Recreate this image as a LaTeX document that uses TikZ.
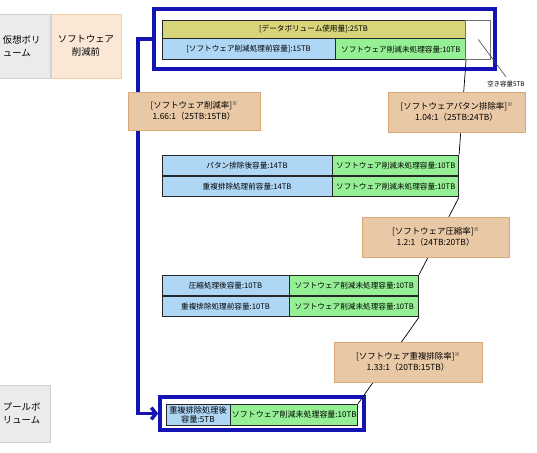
\documentclass[tikz,border=0pt]{standalone}
\usepackage{fontspec}
\setmainfont{Noto Sans CJK JP}
\usepackage{tikz}
\usetikzlibrary{positioning, arrows.meta}

\definecolor{volyellow}{HTML}{D7D47A}
\definecolor{cellblue}{HTML}{AED6F5}
\definecolor{cellgreen}{HTML}{95EF95}
\definecolor{ratefill}{HTML}{E9C8A6}
\definecolor{rateline}{HTML}{D8A878}
\definecolor{frameblue}{HTML}{1414B4}
\definecolor{sidegray}{HTML}{EBEBEB}
\definecolor{sidegrayline}{HTML}{D0D0D0}
\definecolor{sideorange}{HTML}{FBE7D6}
\definecolor{sideorangeline}{HTML}{F3CDA8}

\newcommand{\kome}{\raisebox{0.8ex}{\fontsize{4.5}{5}\selectfont ※}}

\begin{document}
\begin{tikzpicture}[x=0.03cm, y=-0.03cm,
   cell/.style={draw=black!85, line width=0.6pt, inner sep=0pt, minimum height=0.615cm,
                font=\fontsize{6.5}{7.5}\selectfont},
   bluebox/.style={draw=frameblue, line width=3pt, inner sep=0pt},
   ratebox/.style={draw=rateline, fill=ratefill, line width=0.8pt, align=center,
                   minimum height=1.2cm, font=\fontsize{7.2}{9.5}\selectfont},
   sidelabel/.style={line width=0.8pt, minimum height=1.92cm, font=\fontsize{8}{11}\selectfont},
   link/.style={black, line width=0.6pt}]
   \useasboundingbox (0,0) rectangle (537,452);

   % Side labels
   \node[sidelabel, fill=sidegray, draw=sidegrayline, minimum width=1.38cm,
         text width=1.32cm, align=left] (vvol) at (25,46) {仮想ボリ\\ューム};
   \node[sidelabel, fill=sideorange, draw=sideorangeline, minimum width=2.1cm,
         align=center] (nored) at (86,46) {ソフトウェア\\削減前};
   \node[sidelabel, fill=sidegray, draw=sidegrayline, minimum width=1.38cm,
         minimum height=1.71cm, text width=1.32cm, align=left] (pvol) at (25,413.5) {プールボ\\リューム};

   % Virtual volume
   \node[cell, fill=volyellow, minimum width=9.09cm, minimum height=0.54cm] (tused) at (313.5,29)
        {[データボリューム使用量]:25TB};
   \node[cell, fill=cellblue, minimum width=5.19cm, minimum height=0.63cm, anchor=north west]
        (tbefore) at (tused.south west) {[ソフトウェア削減処理前容量]:15TB};
   \node[cell, fill=cellgreen, minimum width=3.9cm, minimum height=0.63cm, right=0pt of tbefore]
        (tgreen) {ソフトウェア削減未処理容量:10TB};
   \node[cell, draw=black!55, minimum width=0.75cm, minimum height=1.17cm, anchor=north west]
        (tempty) at (tused.north east) {};
   \node[bluebox, minimum width=10.23cm, minimum height=1.8cm] (tframe) at (324.5,39) {};

   % After pattern removal
   \node[cell, fill=cellblue, minimum width=5.1cm] (pafter) at (247,165.25) {パタン排除後容量:14TB};
   \node[cell, fill=cellgreen, minimum width=3.78cm, right=0pt of pafter] (pgreen1)
        {ソフトウェア削減未処理容量:10TB};
   \node[cell, fill=cellblue, minimum width=5.1cm, below=0pt of pafter] (pdedup) {重複排除処理前容量:14TB};
   \node[cell, fill=cellgreen, minimum width=3.78cm, right=0pt of pdedup] (pgreen2)
        {ソフトウェア削減未処理容量:10TB};

   % After compression
   \node[cell, fill=cellblue, minimum width=3.81cm] (cafter) at (225.5,285.25) {圧縮処理後容量:10TB};
   \node[cell, fill=cellgreen, minimum width=3.87cm, right=0pt of cafter] (cgreen1)
        {ソフトウェア削減未処理容量:10TB};
   \node[cell, fill=cellblue, minimum width=3.81cm, below=0pt of cafter] (cdedup) {重複排除処理前容量:10TB};
   \node[cell, fill=cellgreen, minimum width=3.87cm, right=0pt of cdedup] (cgreen2)
        {ソフトウェア削減未処理容量:10TB};

   % Pool volume
   \node[cell, fill=cellblue, minimum width=1.92cm, minimum height=0.63cm, align=center,
         font=\fontsize{7}{7.6}\selectfont] (bafter) at (198,414.5) {重複排除処理後\\容量:5TB};
   \node[cell, fill=cellgreen, minimum width=3.81cm, minimum height=0.63cm, right=0pt of bafter,
         font=\fontsize{6.8}{7.5}\selectfont] (bgreen) {ソフトウェア削減未処理容量:10TB};
   \node[bluebox, minimum width=6.12cm, minimum height=0.99cm] (bframe) at (262,413.5) {};

   % Connectors
   \draw[frameblue, line width=3pt, -{Straight Barb[length=4pt, width=10pt]}]
        (tframe.west) -- ++(-14,0) |- (bframe.west);
   \draw[link] (tgreen.south east) -- (pgreen1.north east);
   \draw[link] (pgreen2.south east) -- (cgreen1.north east);
   \draw[link] (cgreen2.south east) -- (bgreen.north east);

   \node[font=\fontsize{5.5}{6}\selectfont] (freelabel) at (506,84) {空き容量5TB};
   \draw[black!75, line width=0.5pt] (tempty.center) -- (freelabel.north);

   % Reduction ratios
   \node[ratebox, minimum width=3.96cm, minimum height=1.14cm] (rtotal) at (194,111)
        {[ソフトウェア削減率]\kome\\1.66:1（25TB:15TB）};
   \node[ratebox, minimum width=4.11cm] (rpattern) at (456.5,112)
        {[ソフトウェアパタン排除率]\kome\\1.04:1（25TB:24TB）};
   \node[ratebox, minimum width=4.41cm] (rcomp) at (435.5,237)
        {[ソフトウェア圧縮率]\kome\\1.2:1（24TB:20TB）};
   \node[ratebox, minimum width=4.44cm] (rdedup) at (408,362)
        {[ソフトウェア重複排除率]\kome\\1.33:1（20TB:15TB）};
\end{tikzpicture}
\end{document}
